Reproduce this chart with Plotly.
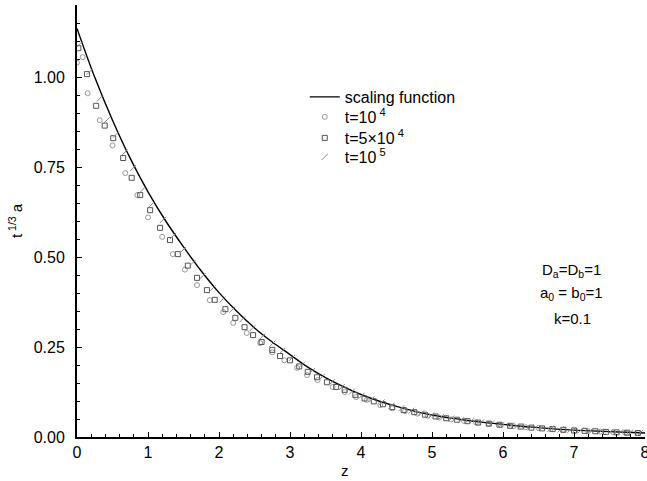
import plotly.graph_objects as go

# scaling function
z_curve = [0, 0.25, 0.5, 0.75, 1.0, 1.25, 1.5, 1.75, 2.0, 2.25, 2.5, 2.75, 3.0, 3.25, 3.5, 3.75,
           4.0, 4.25, 4.5, 4.75, 5.0, 5.25, 5.5, 5.75, 6.0, 6.25, 6.5, 6.75, 7.0, 7.25, 7.5, 7.75, 8.0]
y_curve = [1.135, 0.999, 0.880, 0.774, 0.681, 0.600, 0.528, 0.461, 0.401, 0.349, 0.303, 0.264, 0.229,
           0.194, 0.165, 0.140, 0.118, 0.100, 0.085, 0.072, 0.061, 0.053, 0.046, 0.040, 0.035, 0.030,
           0.026, 0.022, 0.019, 0.017, 0.015, 0.013, 0.011]

# t = 10^4 (circles)
z_t1 = [0, 0.08, 0.15, 0.32, 0.5, 0.68, 0.85, 1.0, 1.2, 1.35, 1.52, 1.69, 1.87, 2.06, 2.2, 2.39, 2.58,
        2.75, 2.92, 3.1, 3.24, 3.39, 3.6, 3.77, 3.93, 4.08, 4.27, 4.44, 4.62, 4.79, 4.94, 5.1, 5.27,
        5.45, 5.62, 5.8, 5.97, 6.15, 6.32, 6.5, 6.67, 6.85, 7.02, 7.2, 7.37, 7.55, 7.72, 7.9]
y_t1 = [1.04, 1.055, 0.955, 0.88, 0.81, 0.733, 0.672, 0.61, 0.556, 0.508, 0.465, 0.422, 0.38, 0.347,
        0.317, 0.289, 0.261, 0.235, 0.213, 0.192, 0.172, 0.158, 0.139, 0.125, 0.111, 0.103, 0.089,
        0.080, 0.072, 0.065, 0.059, 0.054, 0.049, 0.045, 0.041, 0.037, 0.033, 0.030, 0.027, 0.025,
        0.022, 0.020, 0.018, 0.016, 0.015, 0.013, 0.012, 0.011]

# t = 5x10^4 (squares)
z_t2 = [0.02, 0.14, 0.27, 0.39, 0.51, 0.65, 0.77, 0.89, 1.03, 1.17, 1.31, 1.42, 1.56, 1.69, 1.83, 1.94,
        2.09, 2.23, 2.36, 2.48, 2.6, 2.75, 2.86, 3.0, 3.13, 3.25, 3.38, 3.52, 3.65, 3.77, 3.92, 4.05,
        4.18, 4.31, 4.44, 4.6, 4.75, 4.9, 5.05, 5.2, 5.35, 5.5, 5.65, 5.8, 5.95, 6.1, 6.25, 6.4, 6.55,
        6.7, 6.85, 7.0, 7.15, 7.3, 7.45, 7.6, 7.75, 7.9]
y_t2 = [1.08, 1.008, 0.92, 0.865, 0.83, 0.775, 0.72, 0.672, 0.63, 0.581, 0.547, 0.508, 0.476, 0.442,
        0.408, 0.381, 0.355, 0.331, 0.305, 0.283, 0.264, 0.242, 0.225, 0.213, 0.196, 0.181, 0.166,
        0.152, 0.139, 0.131, 0.117, 0.107, 0.099, 0.091, 0.083, 0.075, 0.069, 0.062, 0.057, 0.052,
        0.048, 0.044, 0.040, 0.037, 0.034, 0.031, 0.029, 0.026, 0.024, 0.022, 0.020, 0.018, 0.017,
        0.016, 0.014, 0.013, 0.012, 0.011]

# t = 10^5 (slashes)
z_t3 = [0.03, 0.18, 0.32, 0.42, 0.55, 0.67, 0.79, 0.92, 1.06, 1.21, 1.35, 1.49, 1.63, 1.77, 1.91, 2.05,
        2.19, 2.33, 2.47, 2.61, 2.75, 2.89, 3.03, 3.17, 3.31, 3.45, 3.59, 3.73, 3.87, 4.01, 4.15, 4.29,
        4.43, 4.57, 4.71, 4.85, 4.99, 5.13, 5.27, 5.41, 5.55, 5.69, 5.83, 5.97, 6.11, 6.25, 6.39, 6.53,
        6.67, 6.81, 6.95, 7.09, 7.23, 7.37, 7.51, 7.65, 7.79, 7.93]
y_t3 = [1.09, 1.015, 0.94, 0.88, 0.84, 0.79, 0.747, 0.686, 0.648, 0.603, 0.558, 0.519, 0.484, 0.447,
        0.413, 0.382, 0.354, 0.327, 0.302, 0.279, 0.259, 0.239, 0.220, 0.201, 0.183, 0.167, 0.152,
        0.139, 0.126, 0.115, 0.105, 0.096, 0.087, 0.080, 0.073, 0.066, 0.060, 0.056, 0.051, 0.047,
        0.044, 0.040, 0.037, 0.034, 0.032, 0.029, 0.027, 0.025, 0.023, 0.021, 0.020, 0.018, 0.017,
        0.015, 0.014, 0.013, 0.012, 0.011]

FONT = "Liberation Sans, Arial, Helvetica, sans-serif"

fig = go.Figure()
fig.add_trace(go.Scatter(x=z_curve, y=y_curve, mode="lines", name="scaling function", legend="legend",
                         line=dict(color="black", width=1.4, shape="spline")))
fig.add_trace(go.Scatter(x=z_t1, y=y_t1, mode="markers", name="t=10<sup> 4</sup>", legend="legend2",
                         marker=dict(symbol="circle-open", size=5, color="#999999", line=dict(width=1))))
fig.add_trace(go.Scatter(x=z_t2, y=y_t2, mode="markers", name="t=5\u00d710<sup> 4</sup>", legend="legend3",
                         marker=dict(symbol="square-open", size=5, color="#555555", line=dict(width=1))))
fig.add_trace(go.Scatter(x=z_t3, y=y_t3, mode="markers", name="t=10<sup> 5</sup>", legend="legend4",
                         marker=dict(symbol="line-ne", size=6, color="#888888",
                                     line=dict(width=1, color="#888888"))))


def leg(yc):
    return dict(x=0.401, y=(437 - yc) / 432, xanchor="left", yanchor="middle",
                bgcolor="rgba(0,0,0,0)", font=dict(size=16, family=FONT), itemwidth=30)


axis_common = dict(showgrid=False, zeroline=False, automargin=False)

fig.update_layout(
    width=647, height=481,
    margin=dict(l=77, r=2, t=5, b=44, autoexpand=False),
    paper_bgcolor="white", plot_bgcolor="white",
    font=dict(family=FONT, size=14, color="black"),
    showlegend=True,
    legend=leg(97), legend2=leg(117), legend3=leg(138), legend4=leg(157),
    xaxis=dict(range=[0, 8], dtick=1, tickformat="d", **axis_common,
               showline=True, linecolor="black", linewidth=2,
               ticks="inside", ticklen=5, tickcolor="black", ticklabeloverflow="allow",
               minor=dict(dtick=0.2, ticks="inside", ticklen=3, tickcolor="black"),
               tickfont=dict(size=16)),
    yaxis=dict(range=[0, 1.2], dtick=0.25, tickformat=".2f", **axis_common,
               showline=True, linecolor="black", linewidth=2,
               ticks="inside", ticklen=5, tickcolor="black", ticklabelstandoff=7,
               minor=dict(dtick=0.05, ticks="inside", ticklen=3, tickcolor="black"),
               tickfont=dict(size=16)),
    xaxis2=dict(range=[0, 8], overlaying="x", side="top", anchor="y", dtick=0.4, tick0=0,
                showticklabels=False, **axis_common, showline=True,
                linecolor="black", linewidth=1, ticks="inside", ticklen=4, tickcolor="black"),
    yaxis2=dict(range=[0, 1.2], overlaying="y", side="right", anchor="x", dtick=0.05, tick0=0,
                showticklabels=False, **axis_common, showline=True,
                linecolor="black", linewidth=1, ticks="inside", ticklen=4, tickcolor="black"),
)

# axis titles
fig.add_annotation(text="z", xref="paper", yref="paper", x=0.472, y=0, yshift=-33,
                   xanchor="center", yanchor="middle", showarrow=False, font=dict(size=15))
fig.add_annotation(text="t<sup> 1/3</sup> a", xref="paper", yref="paper", x=0, xshift=-62, y=0.5,
                   xanchor="center", yanchor="middle", textangle=-90, showarrow=False,
                   font=dict(size=15))

# parameter text
for txt, xc, yc in [("D<sub>a</sub>=D<sub>b</sub>=1", 571, 270),
                    ("a<sub>0</sub> = b<sub>0</sub>=1", 571, 294),
                    ("k=0.1", 572, 318)]:
    fig.add_annotation(text=txt, xref="paper", yref="paper",
                       x=(xc - 77) / 568, y=(437 - yc) / 432, xanchor="center", yanchor="middle",
                       showarrow=False, font=dict(size=15))

fig.write_html("out.html")
